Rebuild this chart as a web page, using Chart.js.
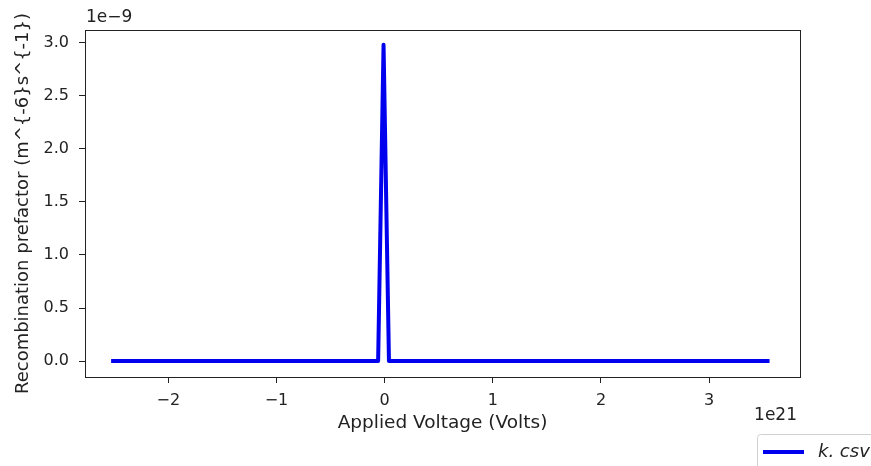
<!DOCTYPE html>
<html>
<head>
<meta charset="utf-8">
<script src="https://cdn.jsdelivr.net/npm/chart.js@4.4.1/dist/chart.umd.min.js"></script>
<style>
    html, body { margin: 0; padding: 0; background: #fff; }
    #wrap { width: 871px; height: 466px; position: relative; }
</style>
</head>
<body>
<div id="wrap"><canvas id="chart" width="871" height="466"></canvas></div>
<script>
// Data (x in units of 1e21 V, y in units of 1e-9 m^-6 s^-1)
const voltage = [-2.51, -0.06, -0.01, 0.04, 3.54];
const prefactor = [0, 0, 2.98, 0, 0];
const xTicks = [-2, -1, 0, 1, 2, 3];
const yTicks = [0, 0.5, 1.0, 1.5, 2.0, 2.5, 3.0];
const seriesLabel = 'k.csv';

const FONT = 'DejaVu Sans';
const INK = '#222';

function fmtMinus(v, digits) {
    const s = Math.abs(v).toFixed(digits);
    return v < 0 ? '\u2212' + s : s;
}

// frame, offset texts and legend
const decorPlugin = {
    id: 'decor',
    afterDraw(chart) {
        const ctx = chart.ctx;
        const a = chart.chartArea;
        ctx.save();
        ctx.strokeStyle = INK;
        ctx.lineWidth = 1;
        ctx.strokeRect(a.left + 0.5, a.top + 0.5, a.right - a.left, a.bottom - a.top);

        ctx.fillStyle = INK;
        ctx.font = '17px "' + FONT + '"';
        ctx.textBaseline = 'middle';
        ctx.textAlign = 'left';
        ctx.fillText('1e\u22129', a.left + 1, 18);
        ctx.textAlign = 'right';
        ctx.fillText('1e21', a.right - 3, 416);

        // legend
        const ds = chart.data.datasets[0];
        ctx.strokeStyle = '#d0d0d0';
        ctx.lineWidth = 1;
        ctx.beginPath();
        ctx.roundRect(757.5, 434.5, 140, 60, 3);
        ctx.stroke();
        ctx.strokeStyle = ds.borderColor;
        ctx.lineWidth = 4;
        ctx.beginPath();
        ctx.moveTo(763, 452);
        ctx.lineTo(804, 452);
        ctx.stroke();
        ctx.fillStyle = INK;
        ctx.textAlign = 'left';
        ctx.font = 'italic 18px "' + FONT + '"';
        ctx.fillText(ds.label.replace('.', '. '), 818, 452);
        ctx.restore();
    }
};

new Chart(document.getElementById('chart'), {
    type: 'line',
    data: {
        labels: voltage,
        datasets: [{
            label: seriesLabel,
            data: voltage.map((v, i) => ({ x: v, y: prefactor[i] })),
            borderColor: '#0000ee',
            borderWidth: 4,
            borderJoinStyle: 'round',
            borderCapStyle: 'square',
            pointRadius: 0,
            tension: 0,
            fill: false
        }]
    },
    options: {
        responsive: false,
        animation: false,
        devicePixelRatio: 1,
        layout: { padding: { top: 30, right: 71, left: 0, bottom: 0 } },
        plugins: {
            legend: { display: false },
            tooltip: { enabled: false }
        },
        scales: {
            x: {
                type: 'linear',
                min: -2.77,
                max: 3.84,
                afterFit: s => { s.height = 89; },
                afterBuildTicks: s => { s.ticks = xTicks.map(v => ({ value: v })); },
                grid: { drawOnChartArea: false, tickLength: 6, color: INK },
                border: { display: false },
                ticks: {
                    color: INK,
                    padding: 8,
                    maxRotation: 0,
                    font: { family: FONT, size: 16 },
                    callback: v => fmtMinus(v, 0)
                },
                title: {
                    display: true,
                    text: 'Applied Voltage (Volts)',
                    color: INK,
                    font: { family: FONT, size: 18.5 },
                    padding: { top: 0, bottom: 32 }
                }
            },
            y: {
                min: -0.15,
                max: 3.12,
                afterFit: s => { s.width = 85; },
                afterBuildTicks: s => { s.ticks = yTicks.map(v => ({ value: v })); },
                grid: { drawOnChartArea: false, tickLength: 6, color: INK },
                border: { display: false },
                ticks: {
                    color: INK,
                    padding: 10,
                    font: { family: FONT, size: 16 },
                    callback: v => fmtMinus(v, 1)
                },
                title: {
                    display: true,
                    text: 'Recombination prefactor (m^{-6}s^{-1})',
                    color: INK,
                    font: { family: FONT, size: 18 },
                    padding: { top: 13, bottom: 0 }
                }
            }
        }
    },
    plugins: [decorPlugin]
});
</script>
</body>
</html>
